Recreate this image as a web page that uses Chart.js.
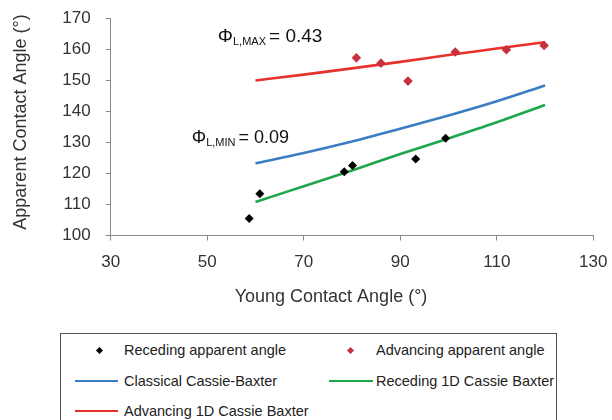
<!DOCTYPE html>
<html>
<head>
<meta charset="utf-8">
<script src="https://cdn.jsdelivr.net/npm/chart.js@4"></script>
<style>
  html, body { margin: 0; padding: 0; background: #fff; }
  #wrap { position: relative; width: 612px; height: 420px; overflow: hidden; font-family: "Liberation Sans", Arial, sans-serif; }
  #c { position: absolute; left: 0; top: 0; }
  #legend { position: absolute; left: 60px; top: 333px; width: 497px; height: 110px; border: 1px solid #555; background: #fff; box-sizing: border-box; }
  .item { position: absolute; font-size: 14.5px; color: #222; white-space: nowrap; line-height: 16px; }
  .mk { position: absolute; }
</style>
</head>
<body>
<div id="wrap">
  <canvas id="c" width="612" height="420"></canvas>
  <div id="legend"></div>
</div>
<script>
// ---- data ----
const recedingX = [58.7, 60.9, 78.4, 80.1, 93.2, 99.4];
const recedingY = [105.5, 113.5, 120.6, 122.6, 124.7, 131.4];

const advancingX = [80.9, 86.0, 91.6, 101.4, 112.0, 119.8];
const advancingY = [157.3, 155.6, 149.8, 159.2, 159.9, 161.3];

const modelX = [60, 70, 80, 90, 100, 110, 120];
const classicalCB = [123.3, 126.6, 130.3, 134.4, 138.7, 143.3, 148.4];
const receding1DCB = [110.8, 115.9, 121.0, 126.3, 131.3, 136.5, 142.1];
const advancing1DCB = [150.0, 151.9, 153.9, 156.0, 158.2, 160.3, 162.4];

const xTicks = [30, 50, 70, 90, 110, 130];
const yTicks = [100, 110, 120, 130, 140, 150, 160, 170];

const seriesNames = ["Receding apparent angle", "Advancing apparent angle", "Classical Cassie-Baxter", "Receding 1D Cassie Baxter", "Advancing 1D Cassie Baxter"];
const xTitle = "Young Contact Angle (°)";
const yTitle = "Apparent Contact Angle (°)";
const phiMax = { sub: "L,MAX", value: "= 0.43" };
const phiMin = { sub: "L,MIN", value: "= 0.09" };

// ---- colours ----
const C_BLACK = "#000000";
const C_REDPT = "#c8323f";
const C_BLUE = "#3a7dc2";
const C_GREEN = "#1ea64a";
const C_RED = "#e8312a";

const pts = (xs, ys) => xs.map((x, i) => ({ x: x, y: ys[i] }));
const FONT = '"Liberation Sans", Arial, sans-serif';

const annotPlugin = {
  id: 'annot',
  afterDatasetsDraw(chart) {
    const ctx = chart.ctx;
    const xs = chart.scales.x, ys = chart.scales.y;
    function phi(dx, dy, p, size) {
      const x = xs.getPixelForValue(dx), y = ys.getPixelForValue(dy);
      ctx.save();
      ctx.fillStyle = "#111";
      ctx.textBaseline = "alphabetic";
      ctx.textAlign = "left";
      ctx.font = size + "px " + FONT;
      ctx.fillText("Φ", x, y);
      let w = ctx.measureText("Φ").width;
      ctx.font = "11px " + FONT;
      ctx.fillText(p.sub, x + w, y + 3);
      w += ctx.measureText(p.sub).width + 3;
      ctx.font = size + "px " + FONT;
      ctx.fillText(p.value, x + w, y);
      ctx.restore();
    }
    phi(52.2, 162.4, phiMax, 19);
    phi(46.8, 129.8, phiMin, 18);

    // axis titles
    ctx.save();
    ctx.fillStyle = "#333";
    ctx.font = "18px " + FONT;
    ctx.textAlign = "center";
    ctx.textBaseline = "middle";
    ctx.fillText(xTitle, 331, 297);
    ctx.translate(21, 122);
    ctx.rotate(-Math.PI / 2);
    ctx.fillText(yTitle, 0, 0);
    ctx.restore();
  }
};

new Chart(document.getElementById('c'), {
  type: 'scatter',
  data: {
    datasets: [
      { label: seriesNames[0], data: pts(recedingX, recedingY), pointStyle: 'rectRot', pointRadius: 4.5, backgroundColor: C_BLACK, borderColor: C_BLACK, borderWidth: 0, showLine: false, order: 0 },
      { label: seriesNames[1], data: pts(advancingX, advancingY), pointStyle: 'rectRot', pointRadius: 4.8, backgroundColor: C_REDPT, borderColor: C_REDPT, borderWidth: 0, showLine: false, order: 0 },
      { label: seriesNames[2], data: pts(modelX, classicalCB), showLine: true, pointRadius: 0, borderColor: C_BLUE, borderWidth: 2.6, cubicInterpolationMode: 'monotone', order: 1 },
      { label: seriesNames[3], data: pts(modelX, receding1DCB), showLine: true, pointRadius: 0, borderColor: C_GREEN, borderWidth: 2.6, cubicInterpolationMode: 'monotone', order: 1 },
      { label: seriesNames[4], data: pts(modelX, advancing1DCB), showLine: true, pointRadius: 0, borderColor: C_RED, borderWidth: 2.6, cubicInterpolationMode: 'monotone', order: 1 }
    ]
  },
  options: {
    responsive: false,
    animation: false,
    devicePixelRatio: 1,
    layout: { padding: { left: 0, top: 18.5, right: 18.7, bottom: 0 } },
    plugins: { legend: { display: false }, tooltip: { enabled: false } },
    scales: {
      x: {
        type: 'linear', min: 30, max: 130,
        afterBuildTicks: s => { s.ticks = xTicks.map(v => ({ value: v })); },
        afterFit: s => { s.height = 184.5; s.paddingLeft = 0; s.paddingRight = 0; },
        ticks: { color: '#333', font: { size: 17, family: FONT }, padding: 12, maxRotation: 0 },
        grid: { drawOnChartArea: false, drawTicks: true, tickLength: 5, color: '#8a8a8a' },
        border: { display: true, color: '#8a8a8a', width: 1 }
      },
      y: {
        type: 'linear', min: 100, max: 170,
        afterBuildTicks: s => { s.ticks = yTicks.map(v => ({ value: v })); },
        afterFit: s => { s.width = 110.7; s.paddingTop = 0; s.paddingBottom = 0; },
        ticks: { color: '#333', font: { size: 17, family: FONT }, padding: 15 },
        grid: { drawOnChartArea: false, drawTicks: true, tickLength: 5, color: '#8a8a8a' },
        border: { display: true, color: '#8a8a8a', width: 1 }
      }
    }
  },
  plugins: [annotPlugin]
});

// ---- legend (HTML, boxed, two columns) ----
const legend = document.getElementById('legend');
const L = 60, T = 333;
const entries = [
  { name: seriesNames[0], kind: 'pt', color: C_BLACK, mx: 99, tx: 124, y: 350 },
  { name: seriesNames[1], kind: 'pt', color: C_REDPT, mx: 350, tx: 376, y: 350 },
  { name: seriesNames[2], kind: 'ln', color: C_BLUE, lx: 75, lw: 43, tx: 124, y: 381 },
  { name: seriesNames[3], kind: 'ln', color: C_GREEN, lx: 329, lw: 44, tx: 376, y: 381 },
  { name: seriesNames[4], kind: 'ln', color: C_RED, lx: 75, lw: 43, tx: 124, y: 411 }
];
entries.forEach(e => {
  const t = document.createElement('div');
  t.className = 'item';
  t.textContent = e.name;
  t.style.left = (e.tx - L - 1) + 'px';
  t.style.top = (e.y - T - 9) + 'px';
  legend.appendChild(t);
  const m = document.createElement('div');
  m.className = 'mk';
  if (e.kind === 'pt') {
    m.style.width = '5px'; m.style.height = '5px';
    m.style.background = e.color;
    m.style.transform = 'rotate(45deg)';
    m.style.left = (e.mx - L - 1 - 2.5) + 'px';
    m.style.top = (e.y - T - 1 - 2.5) + 'px';
  } else {
    m.style.width = e.lw + 'px'; m.style.height = '2.5px';
    m.style.background = e.color;
    m.style.left = (e.lx - L - 1) + 'px';
    m.style.top = (e.y - T - 1 - 1.25) + 'px';
  }
  legend.appendChild(m);
});
</script>
</body>
</html>
